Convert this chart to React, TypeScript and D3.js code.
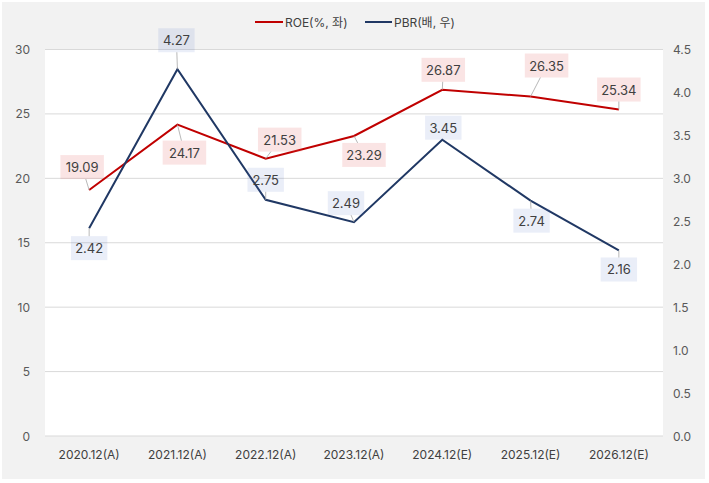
import { line, scaleBand, scaleLinear } from 'd3'

const categories = [
  '2020.12(A)',
  '2021.12(A)',
  '2022.12(A)',
  '2023.12(A)',
  '2024.12(E)',
  '2025.12(E)',
  '2026.12(E)',
]
const roeValues = [19.09, 24.17, 21.53, 23.29, 26.87, 26.35, 25.34]
const pbrValues = [2.42, 4.27, 2.75, 2.49, 3.45, 2.74, 2.16]
const leftTicks = [0, 5, 10, 15, 20, 25, 30]
const rightTicks = [0, 0.5, 1, 1.5, 2, 2.5, 3, 3.5, 4, 4.5]

// label box placement relative to the point (dx, dy of box centre)
const roeLabelOffsets: [number, number][] = [
  [-7, -23],
  [7, 28],
  [14, -19],
  [10, 19],
  [1, -20],
  [16, -31],
  [0, -20],
]
const pbrLabelOffsets: [number, number][] = [
  [0, 20],
  [-1, -29],
  [0, -20],
  [-8, -19],
  [1, -12],
  [1, 20],
  [0, 19],
]

const width = 709
const height = 483
const plot = { left: 45, right: 663, top: 49.5, bottom: 436 }
const font = 'Inter, "Noto Sans CJK KR", sans-serif'
const roeColor = '#c00000'
const pbrColor = '#203864'

type Series = {
  values: number[]
  offsets: [number, number][]
  fill: string
  y: (v: number) => number
  fmt: (v: number) => string
}

function textWidth(s: string) {
  return s.length * 7.1
}

export default function App() {
  const x = scaleBand<string>().domain(categories).range([plot.left, plot.right])
  const cx = (c: string) => (x(c) ?? 0) + x.bandwidth() / 2
  const yLeft = scaleLinear().domain([0, 30]).range([plot.bottom, plot.top])
  const yRight = scaleLinear().domain([0, 4.5]).range([plot.bottom, plot.top])

  const roePath =
    line<number>()
      .x((_, i) => cx(categories[i]))
      .y((v) => yLeft(v))(roeValues) ?? ''
  const pbrPath =
    line<number>()
      .x((_, i) => cx(categories[i]))
      .y((v) => yRight(v))(pbrValues) ?? ''

  const series: Series[] = [
    {
      values: roeValues,
      offsets: roeLabelOffsets,
      fill: 'rgba(226, 90, 90, 0.16)',
      y: yLeft,
      fmt: (v) => v.toFixed(2),
    },
    {
      values: pbrValues,
      offsets: pbrLabelOffsets,
      fill: 'rgba(80, 115, 200, 0.12)',
      y: yRight,
      fmt: (v) => v.toFixed(2),
    },
  ]

  const renderLabels = (s: Series, key: string) =>
    s.values.map((v, i) => {
      const px = cx(categories[i])
      const py = s.y(v)
      const [dx, dy] = s.offsets[i]
      const bx = px + dx
      const by = py + dy
      const text = s.fmt(v)
      const w = textWidth(text) + 8
      const h = 24
      // leader from point to the box edge
      let lx = bx
      let ly = by
      if (Math.abs(dy) > 0) {
        const t = h / 2 / Math.abs(dy)
        lx = bx - dx * t
        ly = by - dy * t
      }
      const dist = Math.hypot(lx - px, ly - py)
      return (
        <g key={`${key}-${i}`}>
          {dist > 6 && (
            <line x1={px} y1={py} x2={lx} y2={ly} stroke="#a6a6a6" strokeWidth={0.8} />
          )}
          <rect x={bx - w / 2} y={by - h / 2} width={w} height={h} fill={s.fill} />
          <text
            x={bx}
            y={by}
            textAnchor="middle"
            dominantBaseline="central"
            fontSize={13}
            fill="#404040"
          >
            {text}
          </text>
        </g>
      )
    })

  return (
    <svg
      width={width}
      height={height}
      style={{ position: 'absolute', left: 0, top: 0 }}
      fontFamily={font}
    >
      <rect x={0} y={0} width={width} height={height} fill="#ffffff" />
      <rect x={2} y={2} width={703} height={477} fill="#f2f2f2" />
      <rect
        x={plot.left}
        y={plot.top}
        width={plot.right - plot.left}
        height={plot.bottom - plot.top}
        fill="#ffffff"
      />

      {leftTicks.map((t) => (
        <g key={`l-${t}`}>
          <line
            x1={plot.left}
            x2={plot.right}
            y1={yLeft(t)}
            y2={yLeft(t)}
            stroke="#d9d9d9"
            strokeWidth={1}
          />
          <text
            x={30}
            y={yLeft(t)}
            textAnchor="end"
            dominantBaseline="central"
            fontSize={12}
            fill="#595959"
          >
            {t}
          </text>
        </g>
      ))}

      {rightTicks.map((t) => (
        <text
          key={`r-${t}`}
          x={673}
          y={yRight(t)}
          dominantBaseline="central"
          fontSize={12}
          fill="#595959"
        >
          {t.toFixed(1)}
        </text>
      ))}

      {categories.map((c) => (
        <text
          key={c}
          x={cx(c)}
          y={454}
          textAnchor="middle"
          dominantBaseline="central"
          fontSize={12}
          fill="#404040"
        >
          {c}
        </text>
      ))}

      <path d={roePath} fill="none" stroke={roeColor} strokeWidth={2} />
      <path d={pbrPath} fill="none" stroke={pbrColor} strokeWidth={2} />

      {renderLabels(series[0], 'roe')}
      {renderLabels(series[1], 'pbr')}

      <g fontSize={12} fill="#404040">
        <line x1={255} x2={283} y1={22} y2={22} stroke={roeColor} strokeWidth={2} />
        <text x={285} y={22} dominantBaseline="central">
          ROE(%, 좌)
        </text>
        <line x1={365} x2={392} y1={22} y2={22} stroke={pbrColor} strokeWidth={2} />
        <text x={394} y={22} dominantBaseline="central">
          PBR(배, 우)
        </text>
      </g>
    </svg>
  )
}
